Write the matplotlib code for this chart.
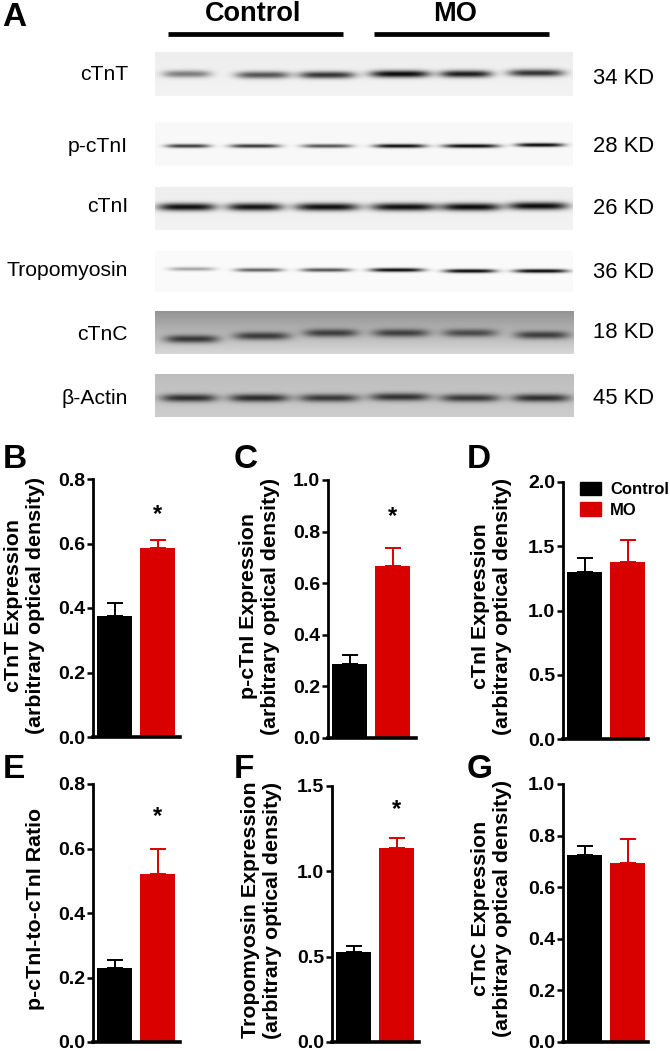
import numpy as np
import matplotlib
matplotlib.use('Agg')
import matplotlib.pyplot as plt
from matplotlib.patches import Patch

plt.rcParams['font.family'] = ['Liberation Sans', 'DejaVu Sans']

W, H = 670, 1051
BLACK = '#000000'
RED = '#d90000'

# western blot
blot_names = ['cTnT', 'p-cTnI', 'cTnI', 'Tropomyosin', 'cTnC', '\u03b2-Actin']
blot_sizes = ['34 KD', '28 KD', '26 KD', '36 KD', '18 KD', '45 KD']
blot_bg_top = [0.93, 0.97, 0.93, 0.98, 0.58, 0.74]
blot_bg_bottom = [0.95, 0.97, 0.95, 0.98, 0.84, 0.80]
band_dark_ctnt = [0.50, 0.68, 0.82, 1.00, 0.92, 0.82]
band_dark_pctni = [0.78, 0.80, 0.68, 0.98, 1.00, 1.00]
band_dark_ctni = [0.98, 0.96, 0.98, 0.98, 1.00, 1.00]
band_dark_tropo = [0.35, 0.62, 0.68, 0.98, 1.00, 1.00]
band_dark_ctnc = [0.75, 0.72, 0.70, 0.68, 0.62, 0.70]
band_dark_actin = [0.80, 0.82, 0.75, 0.78, 0.75, 0.80]
band_dark = [band_dark_ctnt, band_dark_pctni, band_dark_ctni,
             band_dark_tropo, band_dark_ctnc, band_dark_actin]

# layout of the blots, pixels
blot_boxes = [(155, 573, 52, 96), (155, 573, 122, 166), (155, 573, 187, 230),
              (155, 573, 251, 292), (155, 574, 311, 354), (155, 574, 374, 417)]
lane_x = [[187, 263, 327, 400, 466, 536], [188, 255, 327, 400, 471, 540],
          [187, 255, 327, 404, 471, 538], [192, 259, 326, 397, 470, 541],
          [192, 262, 331, 401, 470, 542], [189, 259, 329, 400, 470, 541]]
lane_w = [[24, 27, 28, 30, 26, 28], [22, 25, 25, 26, 28, 24],
          [29, 28, 32, 33, 30, 30], [23, 24, 25, 27, 26, 27],
          [27, 28, 27, 28, 27, 27], [28, 30, 30, 30, 30, 29]]
lane_y = [[74, 75, 75, 74, 74, 73], [146, 146, 146, 146, 146, 145],
          [207, 207, 207, 207, 207, 206], [269, 270, 270, 270, 271, 271],
          [339, 336, 333, 333, 333, 335], [398, 398, 398, 397, 398, 398]]
lane_sigma = [3.6, 2.0, 3.9, 2.0, 4.0, 4.0]
label_y = [75, 146, 207, 270, 335, 399]
size_y = [79, 146, 208, 273, 332, 398]

# bar panels
panels = ['B', 'C', 'D', 'E', 'F', 'G']
control = [0.375, 0.285, 1.30, 0.228, 0.525, 0.725]
control_err = [0.040, 0.035, 0.11, 0.025, 0.040, 0.035]
mo = [0.585, 0.665, 1.38, 0.520, 1.135, 0.695]
mo_err = [0.025, 0.070, 0.17, 0.078, 0.060, 0.092]
ymax = [0.8, 1.0, 2.0, 0.8, 1.5, 1.0]
ystep = [0.2, 0.2, 0.5, 0.2, 0.5, 0.2]
star_y = [0.69, 0.86, None, 0.70, 1.36, None]
ylabels = ['cTnT Expression\n(arbitrary optical density)',
           'p-cTnI Expression\n(arbitrary optical density)',
           'cTnI Expression\n(arbitrary optical density)',
           'p-cTnI-to-cTnI Ratio',
           'Tropomyosin Expression\n(arbitrary optical density)',
           'cTnC Expression\n(arbitrary optical density)']

# left, right, top, bottom of each axes and where the labels sit, pixels
axes_boxes = [(93, 180, 479, 737), (328, 416, 480, 738), (563, 648, 482, 739),
              (93, 180, 784, 1042), (332, 419, 786, 1042), (563, 648, 784, 1042)]
ylabel_pos = [(25, 605), (260, 606), (492, 606), (36, 909), (262, 910), (492, 908)]
letter_pos = [(3, 459), (234, 459), (467, 459), (3, 769), (234, 769), (467, 769)]


def blot_image(i):
    x0, x1, y0, y1 = blot_boxes[i]
    xx, yy = np.meshgrid(np.arange(x0, x1) + 0.5, np.arange(y0, y1) + 0.5)
    img = np.linspace(blot_bg_top[i], blot_bg_bottom[i], y1 - y0)[:, None] * np.ones_like(xx)
    for cx, hw, cy, dark in zip(lane_x[i], lane_w[i], lane_y[i], band_dark[i]):
        shape = np.exp(-((xx - cx) / hw) ** 4) * np.exp(-((yy - cy) / lane_sigma[i]) ** 2)
        img = img * (1 - 0.95 * dark * shape)
    return img


fig = plt.figure(figsize=(W / 100, H / 100), dpi=100, facecolor='white')
page = fig.add_axes([0, 0, 1, 1])
page.set_xlim(0, W)
page.set_ylim(H, 0)
page.axis('off')

for i in range(len(blot_names)):
    x0, x1, y0, y1 = blot_boxes[i]
    page.imshow(blot_image(i), extent=(x0, x1, y1, y0), cmap='gray', vmin=0, vmax=1,
                aspect='auto', interpolation='bilinear')
    page.text(128, label_y[i], blot_names[i], ha='right', va='center', fontsize=15.2)
    page.text(593, size_y[i], blot_sizes[i], ha='left', va='center', fontsize=15.8)
page.set_xlim(0, W)
page.set_ylim(H, 0)

page.plot([168, 343], [34, 34], color='black', lw=3.4, solid_capstyle='butt')
page.plot([374, 549], [34, 34], color='black', lw=3.4, solid_capstyle='butt')
page.text(253, 14, 'Control', ha='center', va='center', fontsize=19.5, fontweight='bold')
page.text(455, 14, 'MO', ha='center', va='center', fontsize=19.5, fontweight='bold')
page.text(2, 18, 'A', ha='left', va='center', fontsize=24, fontweight='bold')

for i, name in enumerate(panels):
    left, right, top, bottom = axes_boxes[i]
    ax = fig.add_axes([left / W, 1 - bottom / H, (right - left) / W, (bottom - top) / H])
    bar_w = 35
    gap = 43
    ax.set_xlim(-21.5 / gap, (right - left - 21.5) / gap)
    ax.set_ylim(0, ymax[i])
    ax.patch.set_alpha(0)
    for x, val, err, col in [(0, control[i], control_err[i], BLACK), (1, mo[i], mo_err[i], RED)]:
        ax.bar(x, val, width=bar_w / gap, color=col)
        ax.errorbar(x, val, yerr=[[0], [err]], color=col, lw=1.4, capsize=5.8, capthick=1.4)
    if star_y[i] is not None:
        ax.text(1, star_y[i], '*', ha='center', va='center', fontsize=17, fontweight='bold')
    ax.set_xticks([])
    ax.set_yticks(np.arange(0, ymax[i] + 0.001, ystep[i]))
    ax.set_yticklabels(['%.1f' % t for t in ax.get_yticks()], fontsize=14, fontweight='bold')
    ax.tick_params(axis='y', length=4, width=1.8, pad=1.5)
    ax.spines['top'].set_visible(False)
    ax.spines['right'].set_visible(False)
    ax.spines['left'].set_linewidth(2)
    ax.spines['bottom'].set_linewidth(2.6)

    page.text(ylabel_pos[i][0], ylabel_pos[i][1], ylabels[i], rotation=90, ha='center', va='center',
              ma='center', fontsize=15.4, fontweight='bold', linespacing=1.2)
    page.text(letter_pos[i][0], letter_pos[i][1], name, ha='left', va='center',
              fontsize=24, fontweight='bold')
    if name == 'D':
        ax.legend(handles=[Patch(color=BLACK, label='Control'), Patch(color=RED, label='MO')],
                  loc='upper left', bbox_to_anchor=(0.2, 1.0), frameon=False, borderpad=0,
                  borderaxespad=0, handlelength=1.26, handleheight=0.84, handletextpad=0.55,
                  labelspacing=0.3, prop={'size': 12, 'weight': 'bold'})

fig.savefig('out.png', dpi=100)
